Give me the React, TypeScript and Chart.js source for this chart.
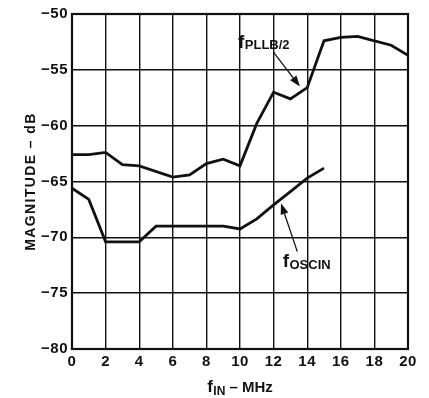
import { useEffect, useRef } from "react";
import { Chart, registerables } from "chart.js";

Chart.register(...registerables);

// ---- data ----
const xPllb = [0, 1, 2, 3, 4, 6, 7, 8, 9, 10, 11, 12, 13, 14, 15, 16, 17, 18, 19, 20];
const yPllb = [-62.6, -62.6, -62.4, -63.5, -63.6, -64.6, -64.4, -63.4, -63.0, -63.6, -59.8, -57.0, -57.6, -56.6, -52.4, -52.1, -52.0, -52.4, -52.8, -53.7];
const xOscin = [0, 1, 2, 4, 5, 9, 10, 11, 12, 13, 14, 15];
const yOscin = [-65.6, -66.6, -70.4, -70.4, -69.0, -69.0, -69.25, -68.35, -67.1, -65.9, -64.7, -63.8];

const xTicks = [0, 2, 4, 6, 8, 10, 12, 14, 16, 18, 20];
const yTicks = [-80, -75, -70, -65, -60, -55, -50];

const yTitle = "MAGNITUDE – dB";
const xTitleMain = "f";
const xTitleSub = "IN";
const xTitleRest = " – MHz";
const pllbMain = "f";
const pllbSub = "PLLB/2";
const oscinMain = "f";
const oscinSub = "OSCIN";

const FONT = "'Liberation Sans', Arial, Helvetica, sans-serif";
const INK = "#111";

function arrow(ctx: CanvasRenderingContext2D, x0: number, y0: number, x1: number, y1: number) {
  const ang = Math.atan2(y1 - y0, x1 - x0);
  const len = 11;
  const half = 4;
  const bx = x1 - Math.cos(ang) * len;
  const by = y1 - Math.sin(ang) * len;
  ctx.beginPath();
  ctx.moveTo(x0, y0);
  ctx.lineTo(bx, by);
  ctx.lineWidth = 1.3;
  ctx.strokeStyle = INK;
  ctx.stroke();
  ctx.beginPath();
  ctx.moveTo(x1, y1);
  ctx.lineTo(bx + Math.sin(ang) * half, by - Math.cos(ang) * half);
  ctx.lineTo(bx - Math.sin(ang) * half, by + Math.cos(ang) * half);
  ctx.closePath();
  ctx.fillStyle = INK;
  ctx.fill();
}

function subLabel(ctx: CanvasRenderingContext2D, x: number, y: number, main: string, sub: string, mainSize: number, subSize: number, drop: number) {
  ctx.save();
  ctx.fillStyle = INK;
  ctx.textBaseline = "alphabetic";
  ctx.textAlign = "left";
  ctx.font = `bold ${mainSize}px ${FONT}`;
  ctx.fillText(main, x, y);
  const w = ctx.measureText(main).width;
  ctx.font = `bold ${subSize}px ${FONT}`;
  ctx.fillText(sub, x + w + 0.5, y + drop);
  ctx.restore();
}

const overlay = {
  id: "overlay",
  beforeDraw(chart: any) {
    chart.ctx.letterSpacing = "0.5px";
  },
  beforeDatasetsDraw(chart: any) {
    const { ctx, chartArea: a } = chart;
    ctx.save();
    ctx.strokeStyle = INK;
    ctx.lineWidth = 2.2;
    ctx.strokeRect(a.left, a.top, a.right - a.left, a.bottom - a.top);
    ctx.restore();
  },
  afterDraw(chart: any) {
    const { ctx } = chart;
    const xs = chart.scales.x;
    const ys = chart.scales.y;
    const a = chart.chartArea;
    ctx.save();
    ctx.letterSpacing = "0px";

    // PLLB/2 annotation
    subLabel(ctx, xs.getPixelForValue(9.88), ys.getPixelForValue(-53.0), pllbMain, pllbSub, 19, 13, 1);
    arrow(ctx, xs.getPixelForValue(11.98), ys.getPixelForValue(-53.4), xs.getPixelForValue(13.57), ys.getPixelForValue(-56.5));

    // OSCIN annotation
    subLabel(ctx, xs.getPixelForValue(12.54), ys.getPixelForValue(-72.65), oscinMain, oscinSub, 19, 13, 2);
    arrow(ctx, xs.getPixelForValue(13.41), ys.getPixelForValue(-71.28), xs.getPixelForValue(12.44), ys.getPixelForValue(-66.95));

    // y axis title
    ctx.save();
    ctx.translate(31, (a.top + a.bottom) / 2);
    ctx.rotate(-Math.PI / 2);
    ctx.font = `bold 14px ${FONT}`;
    ctx.letterSpacing = "1.4px";
    ctx.textAlign = "center";
    ctx.textBaseline = "middle";
    ctx.fillStyle = INK;
    ctx.fillText(yTitle, 0, 0);
    ctx.restore();

    // x axis title
    ctx.font = `bold 17px ${FONT}`;
    const wf = ctx.measureText(xTitleMain).width;
    ctx.font = `bold 12px ${FONT}`;
    const ws = ctx.measureText(xTitleSub).width;
    ctx.font = `bold 15px ${FONT}`;
    const wr = ctx.measureText(xTitleRest).width;
    const total = wf + ws + wr + 0.5;
    const cx = (a.left + a.right) / 2;
    let x = cx - total / 2;
    const base = 392;
    ctx.fillStyle = INK;
    ctx.textAlign = "left";
    ctx.textBaseline = "alphabetic";
    ctx.font = `bold 17px ${FONT}`;
    ctx.fillText(xTitleMain, x, base);
    x += wf + 0.5;
    ctx.font = `bold 12px ${FONT}`;
    ctx.fillText(xTitleSub, x, base + 3);
    x += ws;
    ctx.font = `bold 15px ${FONT}`;
    ctx.fillText(xTitleRest, x, base);
    ctx.restore();
  },
};

export default function App() {
  const ref = useRef<HTMLCanvasElement>(null);
  useEffect(() => {
    document.body.style.margin = "0";
    const canvas = ref.current!;
    const tickFont = { family: FONT, size: 15, weight: "bold" as const };
    const chart = new Chart(canvas, {
      type: "line",
      data: {
        datasets: [
          {
            label: "fPLLB/2",
            data: xPllb.map((x, i) => ({ x, y: yPllb[i] })),
            borderColor: INK,
            borderWidth: 2.8,
            pointRadius: 0,
            tension: 0,
            fill: false,
          },
          {
            label: "fOSCIN",
            data: xOscin.map((x, i) => ({ x, y: yOscin[i] })),
            borderColor: INK,
            borderWidth: 2.8,
            pointRadius: 0,
            tension: 0,
            fill: false,
          },
        ],
      },
      options: {
        responsive: false,
        animation: false,
        devicePixelRatio: 1,
        layout: { padding: { top: 14, right: 21, left: 0, bottom: 0 } },
        plugins: { legend: { display: false }, tooltip: { enabled: false } },
        scales: {
          x: {
            type: "linear",
            min: 0,
            max: 20,
            afterFit: (s: any) => {
              s.height = 49;
            },
            afterBuildTicks: (s: any) => {
              s.ticks = xTicks.map((v) => ({ value: v }));
            },
            ticks: { font: tickFont, color: INK, padding: 4, maxRotation: 0, autoSkip: false, callback: (v: any) => String(v) },
            grid: { color: INK, lineWidth: 1.4, drawTicks: false },
            border: { display: false },
          },
          y: {
            min: -80,
            max: -50,
            afterFit: (s: any) => {
              s.width = 72;
            },
            afterBuildTicks: (s: any) => {
              s.ticks = yTicks.map((v) => ({ value: v }));
            },
            ticks: {
              font: tickFont,
              color: INK,
              padding: 4,
              autoSkip: false,
              callback: (v: any) => (Number(v) < 0 ? "\u2212" + Math.abs(Number(v)) : String(v)),
            },
            grid: { color: INK, lineWidth: 1.4, drawTicks: false },
            border: { display: false },
          },
        },
      },
      plugins: [overlay],
    });
    return () => chart.destroy();
  }, []);
  return (
    <div style={{ width: 429, height: 398, background: "#fff" }}>
      <canvas ref={ref} width={429} height={398} style={{ display: "block" }} />
    </div>
  );
}
